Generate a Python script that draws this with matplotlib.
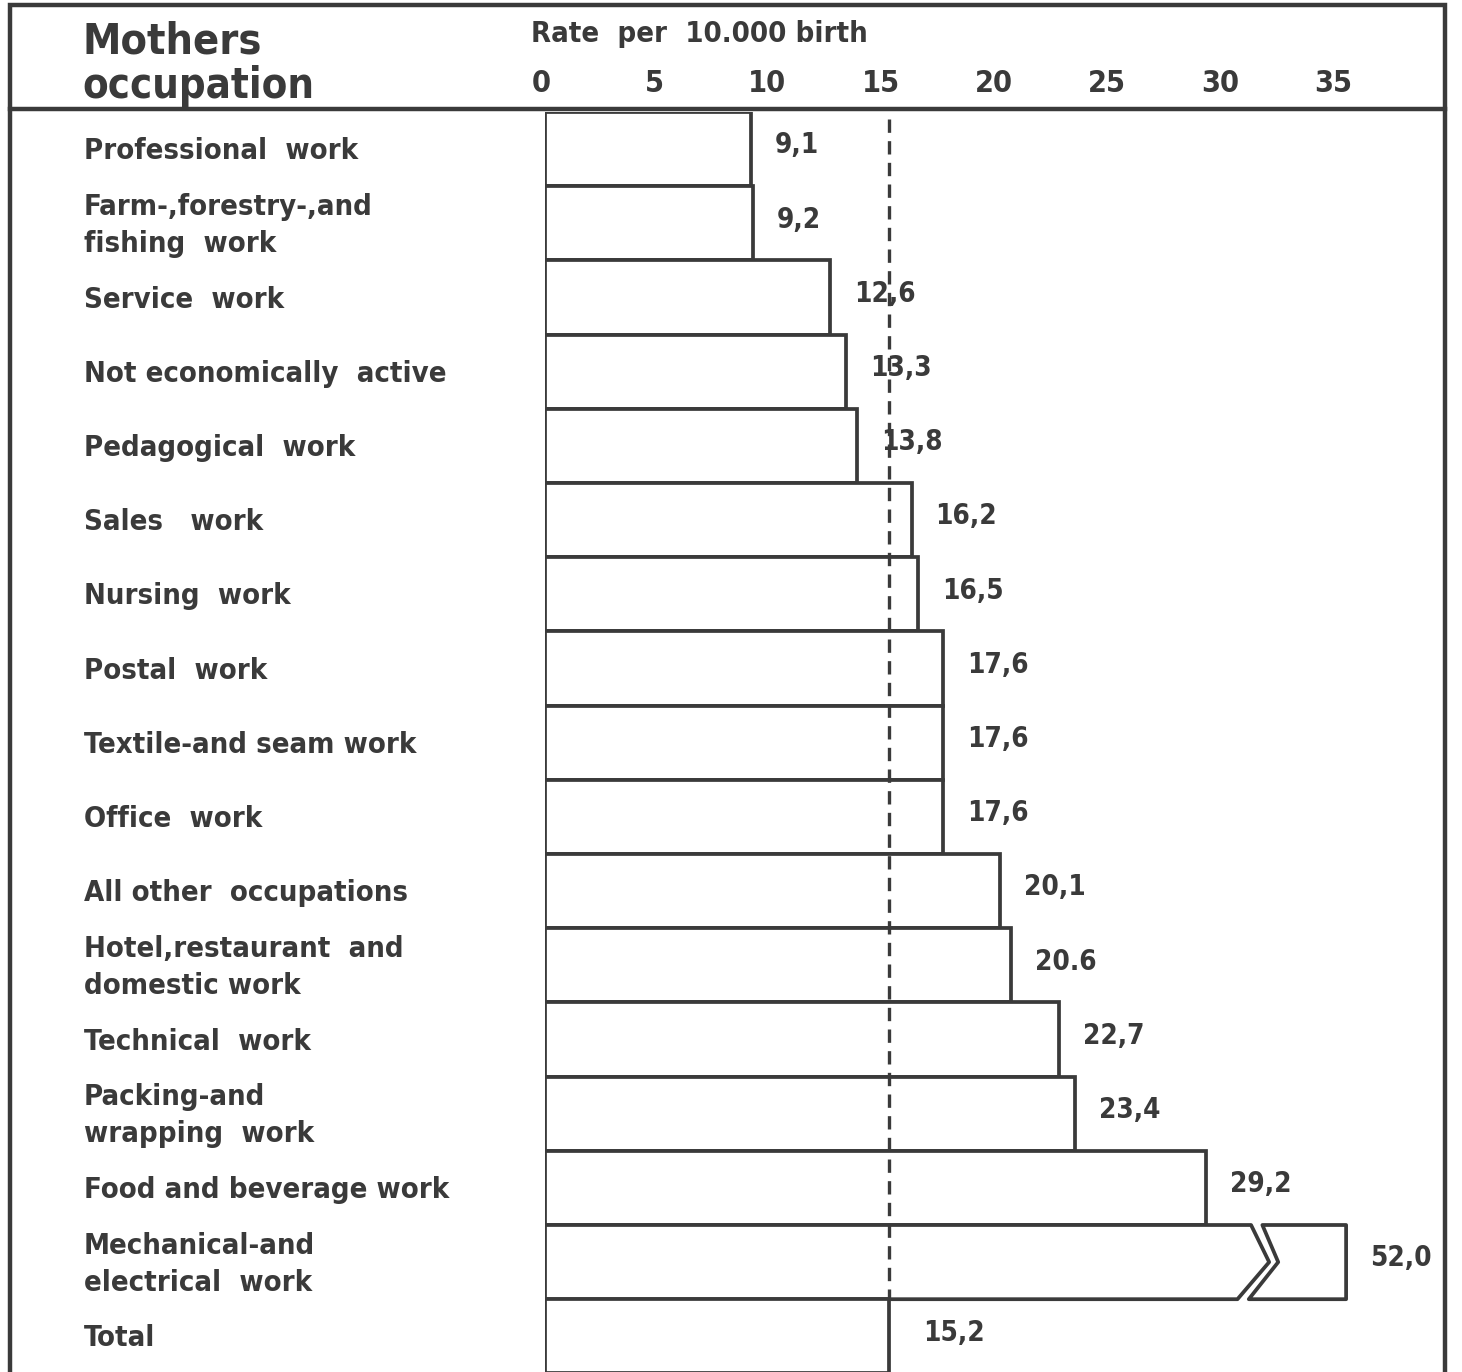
import matplotlib
matplotlib.use("Agg")
from matplotlib import pyplot as plt
from matplotlib.patches import Polygon, Rectangle

# Data (rate per 10.000 births)
occupations = [
    "Professional  work",
    "Farm-,forestry-,and\nfishing  work",
    "Service  work",
    "Not economically  active",
    "Pedagogical  work",
    "Sales   work",
    "Nursing  work",
    "Postal  work",
    "Textile-and seam work",
    "Office  work",
    "All other  occupations",
    "Hotel,restaurant  and\ndomestic work",
    "Technical  work",
    "Packing-and\nwrapping  work",
    "Food and beverage work",
    "Mechanical-and\nelectrical  work",
    "Total",
]
rates = [9.1, 9.2, 12.6, 13.3, 13.8, 16.2, 16.5, 17.6, 17.6, 17.6,
         20.1, 20.6, 22.7, 23.4, 29.2, 52.0, 15.2]
rate_labels = ["9,1", "9,2", "12,6", "13,3", "13,8", "16,2", "16,5", "17,6",
               "17,6", "17,6", "20,1", "20.6", "22,7", "23,4", "29,2", "52,0",
               "15,2"]
ticks = [0, 5, 10, 15, 20, 25, 30, 35]
total_rate = 15.2

INK = "#3a3a3a"
plt.rcParams["font.family"] = ["DejaVu Sans"]
plt.rcParams["font.weight"] = "bold"
plt.rcParams["font.stretch"] = "condensed"

W, H = 1462, 1372
fig = plt.figure(figsize=(W / 100, H / 100), dpi=100)

# axis geometry in pixels
x0_px, px_per_unit = 545, 22.63
top_px, row_px = 112, 74.2
right_px = 1445
ax = fig.add_axes([x0_px / W, 0, (right_px - x0_px) / W, 1 - top_px / H])
ax.set_xlim(0, (right_px - x0_px) / px_per_unit)
n_rows = (H - top_px) / row_px
ax.set_ylim(n_rows, 0)
ax.axis("off")

# bars stacked flush, one per row; the huge one gets a broken bar
cap, brk = 35.4, 31.2
for i, (v, lab) in enumerate(zip(rates, rate_labels)):
    if v > cap:
        left = [(0, i), (brk, i), (brk + 0.8, i + 0.5), (brk - 0.6, i + 1), (0, i + 1)]
        right = [(brk + 0.5, i), (cap, i), (cap, i + 1), (brk - 0.1, i + 1),
                 (brk + 1.2, i + 0.5)]
        for pts in (left, right):
            ax.add_patch(Polygon(pts, closed=True, facecolor="white",
                                 edgecolor=INK, lw=2.7, joinstyle="round",
                                 zorder=2))
        end = cap
    else:
        ax.barh(i, v, height=1, align="edge", facecolor="white",
                edgecolor=INK, lw=2.7, zorder=2)
        end = v
    off = 34 if i == len(rates) - 1 else 24
    ax.annotate(lab, xy=(end, i + 0.45), xytext=(off, 0),
                textcoords="offset pixels", ha="left", va="center",
                fontsize=20, color=INK, zorder=4)

# dashed reference line at the total
ax.plot([total_rate, total_rate], [0.1, len(rates) - 1], color=INK, lw=2.4,
        ls=(0, (4, 2.5)), zorder=3)

# tick labels in the header
for t in ticks:
    fig.text((x0_px + t * px_per_unit - 4) / W, 1 - 84 / H, str(t),
             ha="center", va="center", fontsize=22, color=INK)
fig.text(531 / W, 1 - 34 / H, "Rate  per  10.000 birth", ha="left",
         va="center", fontsize=21, color=INK)

# header title
fig.text(82 / W, 1 - 42 / H, "Mothers", ha="left", va="center",
         fontsize=31, color=INK)
fig.text(82 / W, 1 - 86 / H, "occupation", ha="left", va="center",
         fontsize=30, color=INK)

# occupation names
for i, name in enumerate(occupations):
    yc = top_px + (i + 0.5) * row_px + 2
    fig.text(84 / W, 1 - yc / H, name, ha="left", va="center", fontsize=21,
             color=INK, linespacing=1.4)

# outer frame and header rule
fig.add_artist(Rectangle((10 / W, -0.01), (right_px - 10) / W, 1 - 5 / H + 0.01,
                         transform=fig.transFigure, fill=False, edgecolor=INK,
                         lw=3.2))
fig.add_artist(plt.Line2D([10 / W, right_px / W], [1 - 109 / H, 1 - 109 / H],
                          transform=fig.transFigure, color=INK, lw=3.2))

fig.savefig("out.png", dpi=100, facecolor="white")
